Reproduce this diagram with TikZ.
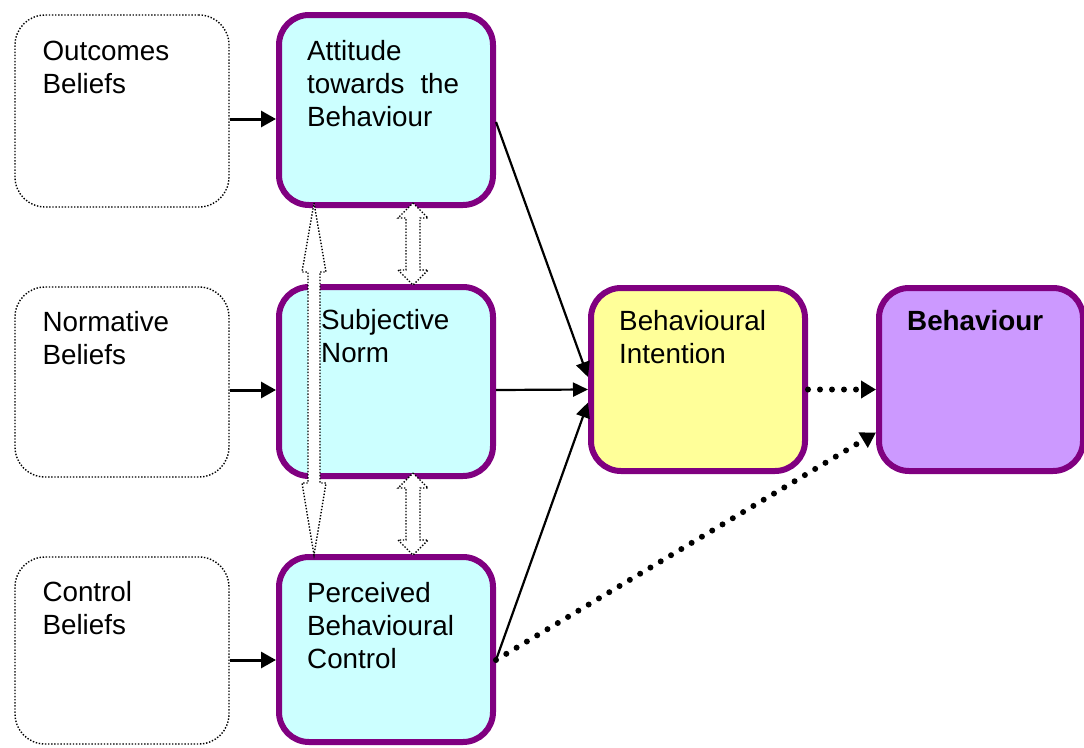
\documentclass[tikz,border=0pt]{standalone}
\usepackage{fontspec}
\setmainfont{Liberation Sans}
\usetikzlibrary{arrows.meta,calc}
\definecolor{frame}{HTML}{800080}
\definecolor{cyanfill}{HTML}{CCFFFF}
\definecolor{yellowfill}{HTML}{FFFF99}
\definecolor{lilacfill}{HTML}{CC99FF}
\tikzset{
  belief/.style={draw=black, line width=1.4pt, dash pattern=on 1.4pt off 1.7pt,
    rounded corners=30pt, minimum width=214pt, inner sep=0pt},
  construct/.style={draw=frame, line width=6pt, rounded corners=30pt,
    minimum width=214pt, inner sep=0pt},
  txt/.style={anchor=north west, inner sep=0pt, align=left,
    font=\fontsize{27.8}{33}\selectfont},
  solidarrow/.style={draw=black, line width=3pt, -{Triangle[length=15pt,width=16pt]}},
  thinarrow/.style={draw=black, line width=2.2pt, -{Triangle[length=15pt,width=14pt]}},
  dotarrow/.style={draw=black, line width=6pt, line cap=round,
    dash pattern=on 0pt off 12pt, -{Triangle[length=15pt,width=17pt]}},
  hollow/.style={draw=black, fill=white, line width=1.4pt,
    dash pattern=on 1.4pt off 1.7pt, line join=miter}
}
\begin{document}
\begin{tikzpicture}[x=1pt,y=-1pt]
\useasboundingbox (0,0) rectangle (1084,747);

% belief boxes
\node[belief, minimum height=192pt] (ob) at (122,111) {};
\node[belief, minimum height=190pt] (nb) at (122,382) {};
\node[belief, minimum height=187pt] (cb) at (122,650.5) {};

% constructs
\node[construct, fill=cyanfill, minimum height=190pt] (att) at (386,110) {};
\node[construct, fill=cyanfill, minimum height=189pt] (sn) at (386,381.5) {};
\node[construct, fill=cyanfill, minimum height=185pt] (pbc) at (386,649.5) {};
\node[construct, fill=yellowfill, minimum height=183pt] (bi) at (698,379.5) {};
\node[construct, fill=lilacfill, minimum height=183pt, minimum width=204pt] (beh) at (981,379.5) {};

% labels
\node[txt] (tob) at ($(ob.north west)+(28,27)$) {Outcomes\\Beliefs};
\node[txt] (tnb) at ($(nb.north west)+(28,25)$) {Normative\\Beliefs};
\node[txt] (tcb) at ($(cb.north west)+(28,25)$) {Control\\Beliefs};
\node[txt] (tatt) at ($(att.north west)+(31,28)$) {Attitude\\towards\hspace{16pt}the\\Behaviour};
\node[txt] (tsn) at ($(sn.north west)+(45,25)$) {Subjective\\Norm};
\node[txt] (tpbc) at ($(pbc.north west)+(31,28)$) {Perceived\\Behavioural\\Control};
\node[txt] (tbi) at ($(bi.north west)+(31,25)$) {Behavioural\\Intention};
\node[txt] (tbeh) at ($(beh.north west)+(31,25)$) {\bfseries Behaviour};

% correlations between the constructs
\draw[hollow] (413,203) -- (428,218) -- (420,218) -- (420,270) -- (428,270)
  -- (413,285) -- (398,270) -- (406,270) -- (406,218) -- (398,218) -- cycle;
\draw[hollow] (413,473) -- (428,488) -- (420,488) -- (420,540) -- (428,540)
  -- (413,555) -- (398,540) -- (406,540) -- (406,488) -- (398,488) -- cycle;
\draw[hollow] (314,203) -- (326,272) -- (320,272) -- (320,483) -- (326,483)
  -- (314,555) -- (302,483) -- (308,483) -- (308,272) -- (302,272) -- cycle;

% beliefs to constructs
\draw[solidarrow] ($(ob.east)+(0,8)$) -- ($(att.west)+(0,9)$);
\draw[solidarrow] ($(nb.east)+(0,8)$) -- ($(sn.west)+(0,8.5)$);
\draw[solidarrow] ($(cb.east)+(0,9.5)$) -- ($(pbc.west)+(0,10.5)$);

% constructs to intention
\draw[thinarrow] ($(att.east)+(0,12)$) -- ($(bi.west)+(0,-2.5)$);
\draw[thinarrow] ($(sn.east)+(0,8.5)$) -- ($(bi.west)+(0,10)$);
\draw[thinarrow] ($(pbc.east)+(0,10.5)$) -- ($(bi.west)+(0,23)$);

% to behaviour
\draw[dotarrow] ($(bi.east)+(0,10)$) -- ($(beh.west)+(0,10)$);
\draw[dotarrow] ($(pbc.east)+(0,10.5)$) -- ($(beh.west)+(0,53)$);
\end{tikzpicture}
\end{document}
